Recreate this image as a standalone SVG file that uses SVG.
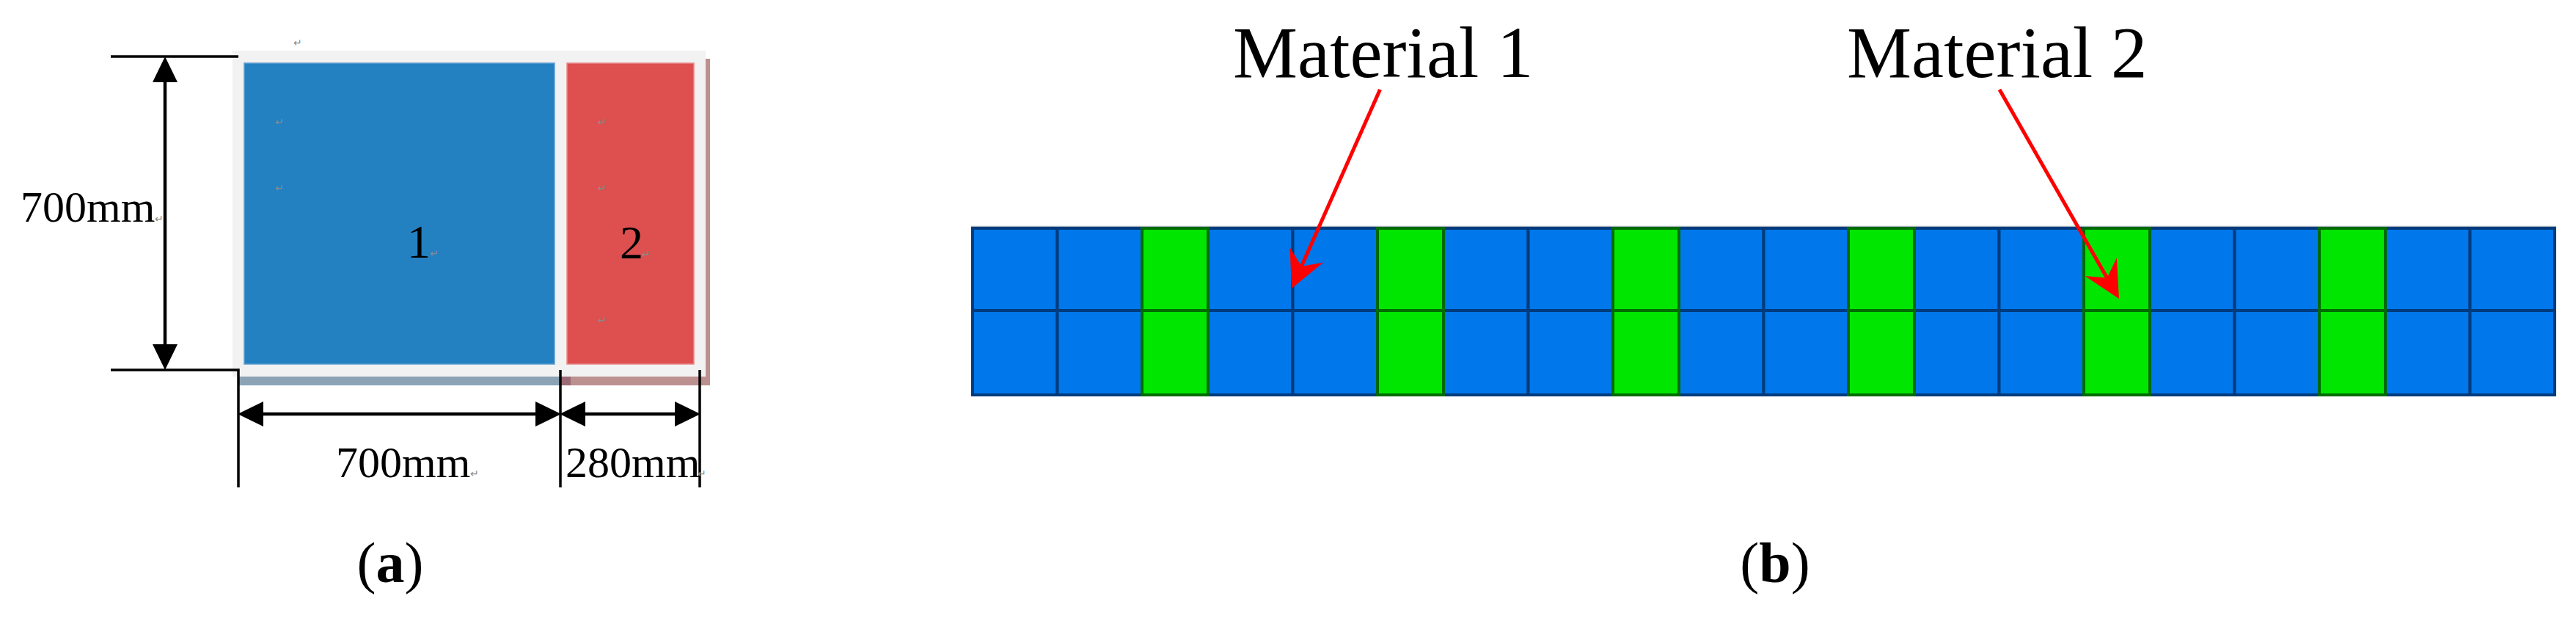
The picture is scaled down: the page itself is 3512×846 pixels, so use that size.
<svg xmlns="http://www.w3.org/2000/svg" width="3512" height="846" viewBox="0 0 3512 846">
<style>
.t{font-family:"Liberation Serif","Times New Roman",serif;fill:#000}
.rm{font-family:"DejaVu Sans",sans-serif;font-size:14px;fill:#8a8a8a}
.dim{stroke:#000;stroke-width:4.5;fill:none}
.ext{stroke:#000;stroke-width:3.5;fill:none}
.cb{fill:#0077ea;stroke:#003b7d;stroke-width:4}
.cg{fill:#00e600;stroke:#006b00;stroke-width:4}
.red{stroke:#ff0000;stroke-width:5;fill:none}
</style>
<defs>
<marker id="ka" viewBox="-36 -18 37 36" refX="-35" refY="0" markerWidth="37" markerHeight="36" markerUnits="userSpaceOnUse" orient="auto-start-reverse">
<path d="M0,0 L-35,-17 L-35,17 Z" fill="#000"/>
</marker>
<marker id="ra" viewBox="-52 -27 54 54" refX="-33" refY="0" markerWidth="54" markerHeight="54" markerUnits="userSpaceOnUse" orient="auto">
<path d="M0,0 L-50,-25 L-33,0 L-50,25 Z" fill="#ff0000"/>
</marker>
</defs>
<rect width="3512" height="846" fill="#fff"/>

<g id="panel-a">
<rect x="962" y="80" width="6" height="445" fill="#bd9090"/>
<rect x="325" y="513" width="440" height="12" fill="#8ca3b5"/>
<rect x="765" y="513" width="203" height="12" fill="#bd9090"/>
<rect x="765" y="513" width="13" height="12" fill="#9a6b75"/>
<rect x="317" y="69" width="645" height="444" fill="#f2f2f2"/>
<g id="region-1">
<rect x="333" y="86" width="423" height="410" fill="#2481c1" stroke="#5d9fd0" stroke-width="1.5"/>
<text class="t" x="555" y="351" font-size="64">1</text>
</g>
<g id="region-2">
<rect x="773" y="86" width="173" height="410" fill="#de4f4f" stroke="#ea8a8a" stroke-width="1.5"/>
<text class="t" x="845" y="352" font-size="64">2</text>
</g>
<g id="dims-a">
<line class="ext" x1="151" y1="77" x2="325" y2="77"/>
<polyline class="ext" points="151,504 325,504 325,664"/>
<line class="ext" x1="764" y1="504" x2="764" y2="664"/>
<line class="ext" x1="954" y1="504" x2="954" y2="664"/>
<line class="dim" x1="225" y1="112" x2="225" y2="469" marker-start="url(#ka)" marker-end="url(#ka)"/>
<line class="dim" x1="359" y1="564" x2="730" y2="564" marker-start="url(#ka)" marker-end="url(#ka)"/>
<line class="dim" x1="798" y1="564" x2="920" y2="564" marker-start="url(#ka)" marker-end="url(#ka)"/>
<text class="t" x="28" y="302" font-size="60">700mm</text>
<text class="t" x="458" y="650" font-size="60">700mm</text>
<text class="t" x="771" y="650" font-size="60">280mm</text>
</g>
<g id="marks">
<text class="rm" x="400" y="63">↵</text>
<text class="rm" x="375" y="171">↵</text>
<text class="rm" x="375" y="261">↵</text>
<text class="rm" x="815" y="171">↵</text>
<text class="rm" x="815" y="261">↵</text>
<text class="rm" x="815" y="441">↵</text>
<text class="rm" x="211" y="303">↵</text>
<text class="rm" x="586" y="350">↵</text>
<text class="rm" x="875" y="351">↵</text>
<text class="rm" x="641" y="650">↵</text>
<text class="rm" x="951" y="650">↵</text>
</g>
<text class="t" x="532" y="793" font-size="78" text-anchor="middle">(<tspan font-weight="bold">a</tspan>)</text>
</g>

<g id="panel-b">
<line x1="1324" y1="308.5" x2="3485" y2="308.5" stroke="#a7b4c0" stroke-width="1.5"/>
<g id="material-1-cells">
<rect class="cb" x="1326" y="311" width="115.5" height="112"/><rect class="cb" x="1326" y="423" width="115.5" height="115"/>
<rect class="cb" x="1441.5" y="311" width="115.5" height="112"/><rect class="cb" x="1441.5" y="423" width="115.5" height="115"/>
<rect class="cb" x="1647" y="311" width="115.5" height="112"/><rect class="cb" x="1647" y="423" width="115.5" height="115"/>
<rect class="cb" x="1762.5" y="311" width="115.5" height="112"/><rect class="cb" x="1762.5" y="423" width="115.5" height="115"/>
<rect class="cb" x="1968" y="311" width="115.5" height="112"/><rect class="cb" x="1968" y="423" width="115.5" height="115"/>
<rect class="cb" x="2083.5" y="311" width="115.5" height="112"/><rect class="cb" x="2083.5" y="423" width="115.5" height="115"/>
<rect class="cb" x="2289" y="311" width="115.5" height="112"/><rect class="cb" x="2289" y="423" width="115.5" height="115"/>
<rect class="cb" x="2404.5" y="311" width="115.5" height="112"/><rect class="cb" x="2404.5" y="423" width="115.5" height="115"/>
<rect class="cb" x="2610" y="311" width="115.5" height="112"/><rect class="cb" x="2610" y="423" width="115.5" height="115"/>
<rect class="cb" x="2725.5" y="311" width="115.5" height="112"/><rect class="cb" x="2725.5" y="423" width="115.5" height="115"/>
<rect class="cb" x="2931" y="311" width="115.5" height="112"/><rect class="cb" x="2931" y="423" width="115.5" height="115"/>
<rect class="cb" x="3046.5" y="311" width="115.5" height="112"/><rect class="cb" x="3046.5" y="423" width="115.5" height="115"/>
<rect class="cb" x="3252" y="311" width="115.5" height="112"/><rect class="cb" x="3252" y="423" width="115.5" height="115"/>
<rect class="cb" x="3367.5" y="311" width="115.5" height="112"/><rect class="cb" x="3367.5" y="423" width="115.5" height="115"/>
</g>
<g id="material-2-cells">
<rect class="cg" x="1557" y="311" width="90" height="112"/><rect class="cg" x="1557" y="423" width="90" height="115"/>
<rect class="cg" x="1878" y="311" width="90" height="112"/><rect class="cg" x="1878" y="423" width="90" height="115"/>
<rect class="cg" x="2199" y="311" width="90" height="112"/><rect class="cg" x="2199" y="423" width="90" height="115"/>
<rect class="cg" x="2520" y="311" width="90" height="112"/><rect class="cg" x="2520" y="423" width="90" height="115"/>
<rect class="cg" x="2841" y="311" width="90" height="112"/><rect class="cg" x="2841" y="423" width="90" height="115"/>
<rect class="cg" x="3162" y="311" width="90" height="112"/><rect class="cg" x="3162" y="423" width="90" height="115"/>
</g>
<g id="label-material-1"><text class="t" x="1681" y="105" font-size="99">Material 1</text></g>
<g id="label-material-2"><text class="t" x="2518" y="105" font-size="99">Material 2</text></g>
<text class="t" x="2420" y="793" font-size="78" text-anchor="middle">(<tspan font-weight="bold">b</tspan>)</text>
</g>

<g id="connectors">
<line class="red" x1="1881.5" y1="122" x2="1774.4" y2="362.8" marker-end="url(#ra)"/>
<line class="red" x1="2726" y1="122" x2="2872.6" y2="378.4" marker-end="url(#ra)"/>
</g>
</svg>
